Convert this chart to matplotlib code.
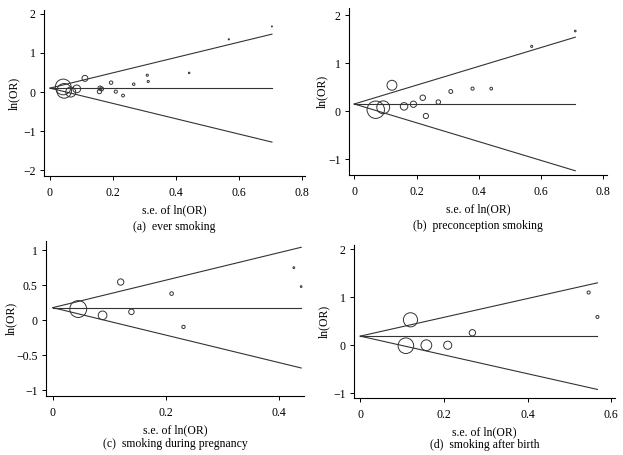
import matplotlib
matplotlib.use("Agg")
import matplotlib.pyplot as plt
from matplotlib.ticker import FuncFormatter

plt.rcParams['font.family'] = 'Liberation Serif'
plt.rcParams['font.size'] = 8

# funnel plot data: standard error and ln(OR) of each study
se_a = [0.042, 0.045, 0.066, 0.085, 0.111, 0.159, 0.157, 0.164, 0.194, 0.209, 0.232,
        0.266, 0.309, 0.312, 0.442, 0.568, 0.705]
lnor_a = [0.13, 0.03, 0.0, 0.08, 0.35, 0.10, 0.01, 0.08, 0.24, 0.01, -0.09,
          0.20, 0.43, 0.27, 0.49, 1.35, 1.68]
pooled_a = 0.1

se_b = [0.069, 0.093, 0.121, 0.16, 0.19, 0.22, 0.23, 0.27, 0.31, 0.38, 0.44, 0.57, 0.71]
lnor_b = [0.03, 0.08, 0.54, 0.10, 0.145, 0.28, -0.10, 0.19, 0.41, 0.47, 0.47, 1.35, 1.67]
pooled_b = 0.15

se_c = [0.045, 0.088, 0.12, 0.139, 0.21, 0.231, 0.426, 0.439]
lnor_c = [0.16, 0.07, 0.545, 0.12, 0.38, -0.095, 0.75, 0.48]
pooled_c = 0.18

se_d = [0.12, 0.109, 0.158, 0.209, 0.268, 0.546, 0.567]
lnor_d = [0.53, -0.01, 0.0, 0.0, 0.26, 1.10, 0.59]
pooled_d = 0.19

captions = ["(a)  ever smoking", "(b)  preconception smoking",
            "(c)  smoking during pregnancy", "(d)  smoking after birth"]

panels = [
    # se, lnor, pooled, marker scale, axes rect (px: left, top, right, bottom), ylabel x px,
    # xlim, ylim, xticks, yticks
    (se_a, lnor_a, pooled_a, 0.33, (44, 10, 305, 176), 20, (-0.019, 0.81), (-2.15, 2.1),
     [0, 0.2, 0.4, 0.6, 0.8], [-2, -1, 0, 1, 2]),
    (se_b, lnor_b, pooled_b, 0.6, (349, 8, 607, 175), 328, (-0.017, 0.812), (-1.33, 2.15),
     [0, 0.2, 0.4, 0.6, 0.8], [-1, 0, 1, 2]),
    (se_c, lnor_c, pooled_c, 0.38, (46, 241, 304, 396), 17, (-0.012, 0.444), (-1.08, 1.13),
     [0, 0.2, 0.4], [-1, -0.5, 0, 0.5, 1]),
    (se_d, lnor_d, pooled_d, 0.85, (354, 245, 615, 398), 330, (-0.015, 0.609), (-1.10, 2.09),
     [0, 0.2, 0.4, 0.6], [-1, 0, 1, 2]),
]

W, H = 623, 455
fig = plt.figure(figsize=(W / 100, H / 100), dpi=100)

fmt = FuncFormatter(lambda v, p: ('%g' % v).replace('-', '\u2212'))

for i, (se, lnor, pooled, k, rect, ylx, xl, yl, xt, yt) in enumerate(panels):
    l, t, r, b = rect
    ax = fig.add_axes([l / W, 1 - b / H, (r - l) / W, (b - t) / H])
    smax = max(se)
    # pseudo 95% confidence limits
    ax.plot([0, smax], [pooled, pooled], color='#333333', lw=0.8)
    ax.plot([0, smax], [pooled, pooled + 1.96 * smax], color='#333333', lw=0.8)
    ax.plot([0, smax], [pooled, pooled - 1.96 * smax], color='#333333', lw=0.8)
    sizes = [(1.44 * k / s) ** 2 for s in se]
    ax.scatter(se, lnor, s=sizes, facecolors='none', edgecolors='#333333', linewidths=0.7)
    ax.set_xlim(xl)
    ax.set_ylim(yl)
    ax.set_xticks(xt)
    ax.set_yticks(yt)
    ax.xaxis.set_major_formatter(fmt)
    ax.yaxis.set_major_formatter(fmt)
    for sp in ['top', 'right']:
        ax.spines[sp].set_visible(False)
    for sp in ['left', 'bottom']:
        ax.spines[sp].set_linewidth(0.8)
    ax.tick_params(direction='out', length=3, width=0.7, labelsize=8.5)
    ax.tick_params(axis='x', pad=5)
    ax.tick_params(axis='y', pad=3)
    ax.set_xlabel("s.e. of ln(OR)", fontsize=8.5, labelpad=4)
    ax.set_ylabel("ln(OR)", fontsize=8.5)
    ax.yaxis.set_label_coords((ylx - l) / (r - l), 0.5)
    ax.text(0.5, -0.27, captions[i], transform=ax.transAxes, ha='center', va='top', fontsize=8.5)

fig.savefig("out.png", dpi=100)
